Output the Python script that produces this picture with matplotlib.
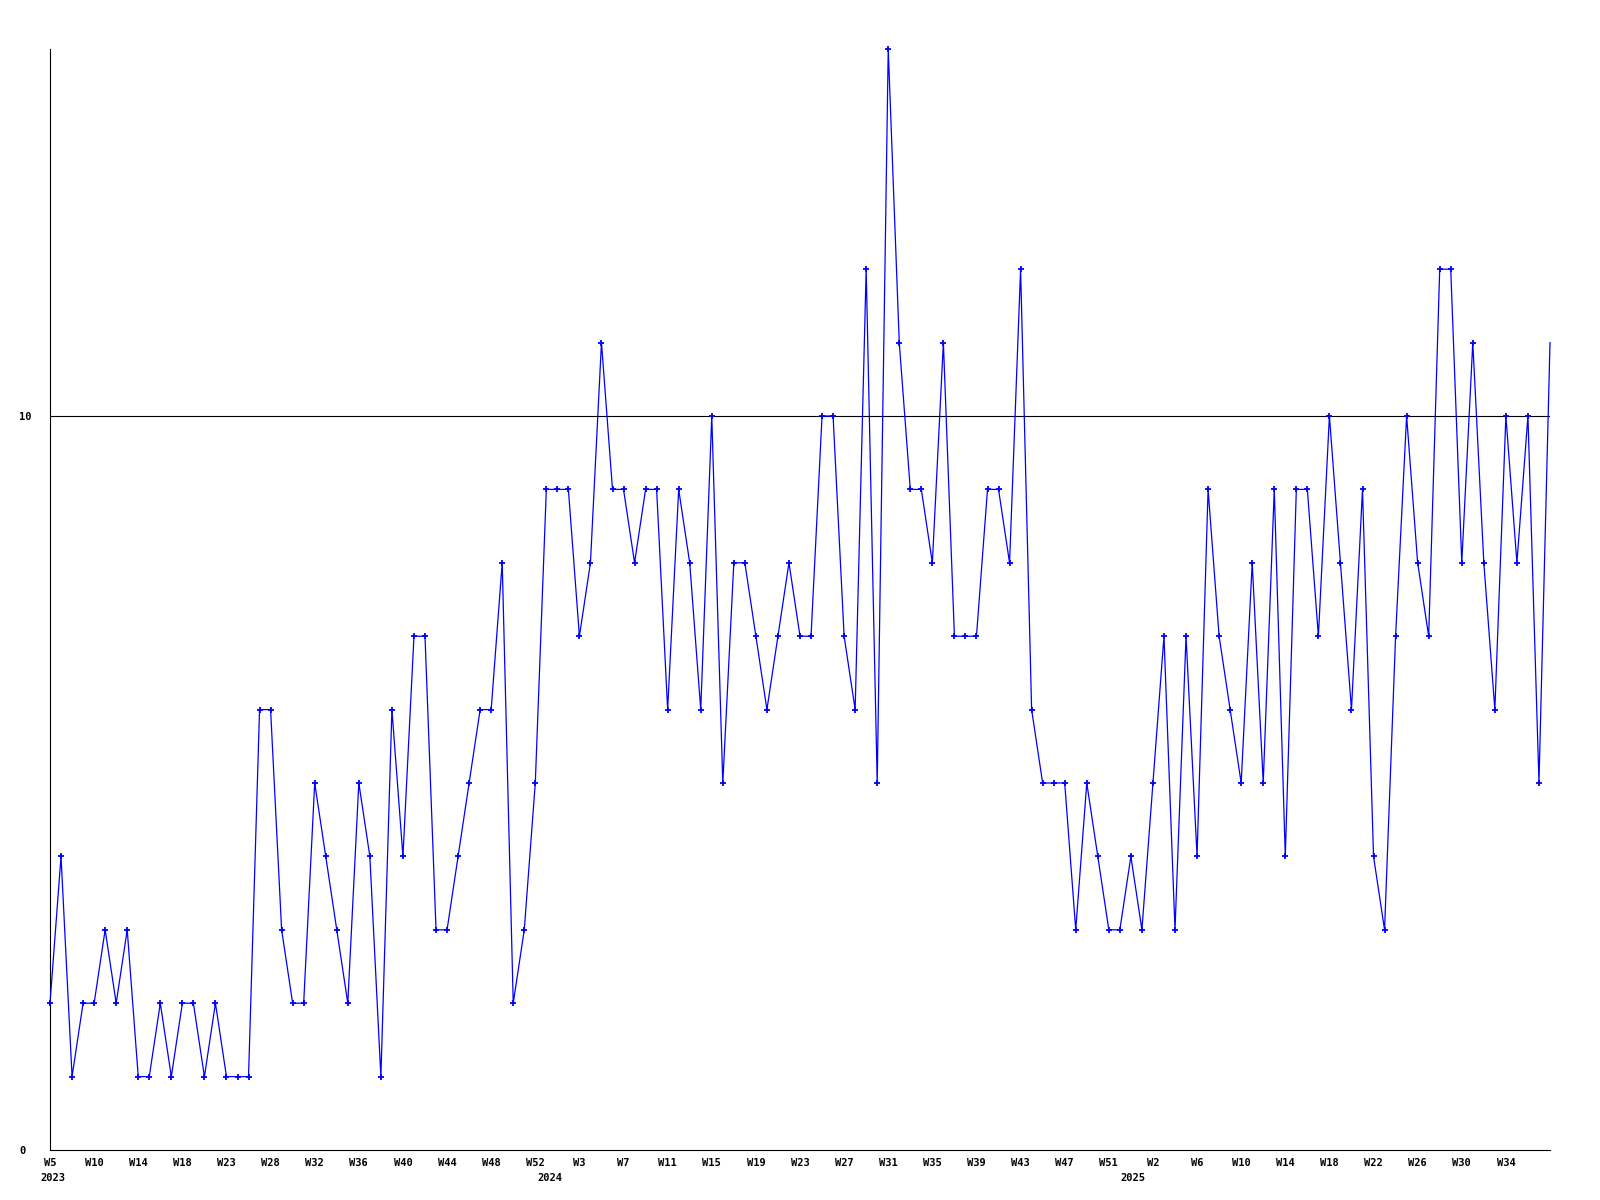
import matplotlib
matplotlib.use('Agg')
import matplotlib.pyplot as plt
from matplotlib.transforms import blended_transform_factory

# weekly values, W5 2023 .. 2025
values = [2, 4, 1, 2, 2, 3, 2, 3, 1, 1, 2, 1, 2, 2, 1, 2, 1, 1, 1, 6,
          6, 3, 2, 2, 5, 4, 3, 2, 5, 4, 1, 6, 4, 7, 7, 3, 3, 4, 5, 6,
          6, 8, 2, 3, 5, 9, 9, 9, 7, 8, 11, 9, 9, 8, 9, 9, 6, 9, 8, 6,
          10, 5, 8, 8, 7, 6, 7, 8, 7, 7, 10, 10, 7, 6, 12, 5, 15, 11, 9, 9,
          8, 11, 7, 7, 7, 9, 9, 8, 12, 6, 5, 5, 5, 3, 5, 4, 3, 3, 4, 3,
          5, 7, 3, 7, 4, 9, 7, 6, 5, 8, 5, 9, 4, 9, 9, 7, 10, 8, 6, 9,
          4, 3, 7, 10, 8, 7, 12, 12, 8, 11, 8, 6, 10, 8, 10, 5, 11]

# one label every 4th week
week_labels = ['W5', 'W10', 'W14', 'W18', 'W23', 'W28', 'W32', 'W36', 'W40',
               'W44', 'W48', 'W52', 'W3', 'W7', 'W11', 'W15', 'W19', 'W23',
               'W27', 'W31', 'W35', 'W39', 'W43', 'W47', 'W51', 'W2', 'W6',
               'W10', 'W14', 'W18', 'W22', 'W26', 'W30', 'W34']
years = ['2023', '2024', '2025']
year_pos = [0.3, 45.3, 98.2]

font = dict(family='DejaVu Sans Mono', weight='bold', size=7.5)

fig = plt.figure(figsize=(16, 12), dpi=100)
ax = fig.add_axes([50 / 1600, 50 / 1200, 1500 / 1600, 1101 / 1200])

n = len(values)
x = list(range(n))
ax.plot(x, values, color='#0000ff', lw=0.9, marker='+', markersize=4,
        markeredgewidth=1.3, markevery=list(range(n - 1)), clip_on=False,
        zorder=3)
ax.axhline(10, color='black', lw=0.8, zorder=2)

ax.set_xlim(0, n - 1)
ax.set_ylim(0, 15)

for s in ['top', 'right']:
    ax.spines[s].set_visible(False)
for s in ['left', 'bottom']:
    ax.spines[s].set_color('black')
    ax.spines[s].set_linewidth(0.8)

ax.set_yticks([0, 10])
ax.set_yticklabels(['0', '10'], ha='left', **font)
ax.tick_params(axis='y', length=0, pad=22)

ax.set_xticks(x[:4 * len(week_labels):4])
ax.set_xticklabels(week_labels, **font)
ax.tick_params(axis='x', length=0, pad=6)

trans = blended_transform_factory(ax.transData, fig.transFigure)
for yr, p in zip(years, year_pos):
    ax.text(p, 1 - 1173 / 1200, yr, transform=trans, ha='center', va='top',
            clip_on=False, **font)

fig.savefig('out.png', dpi=100, facecolor='white')
